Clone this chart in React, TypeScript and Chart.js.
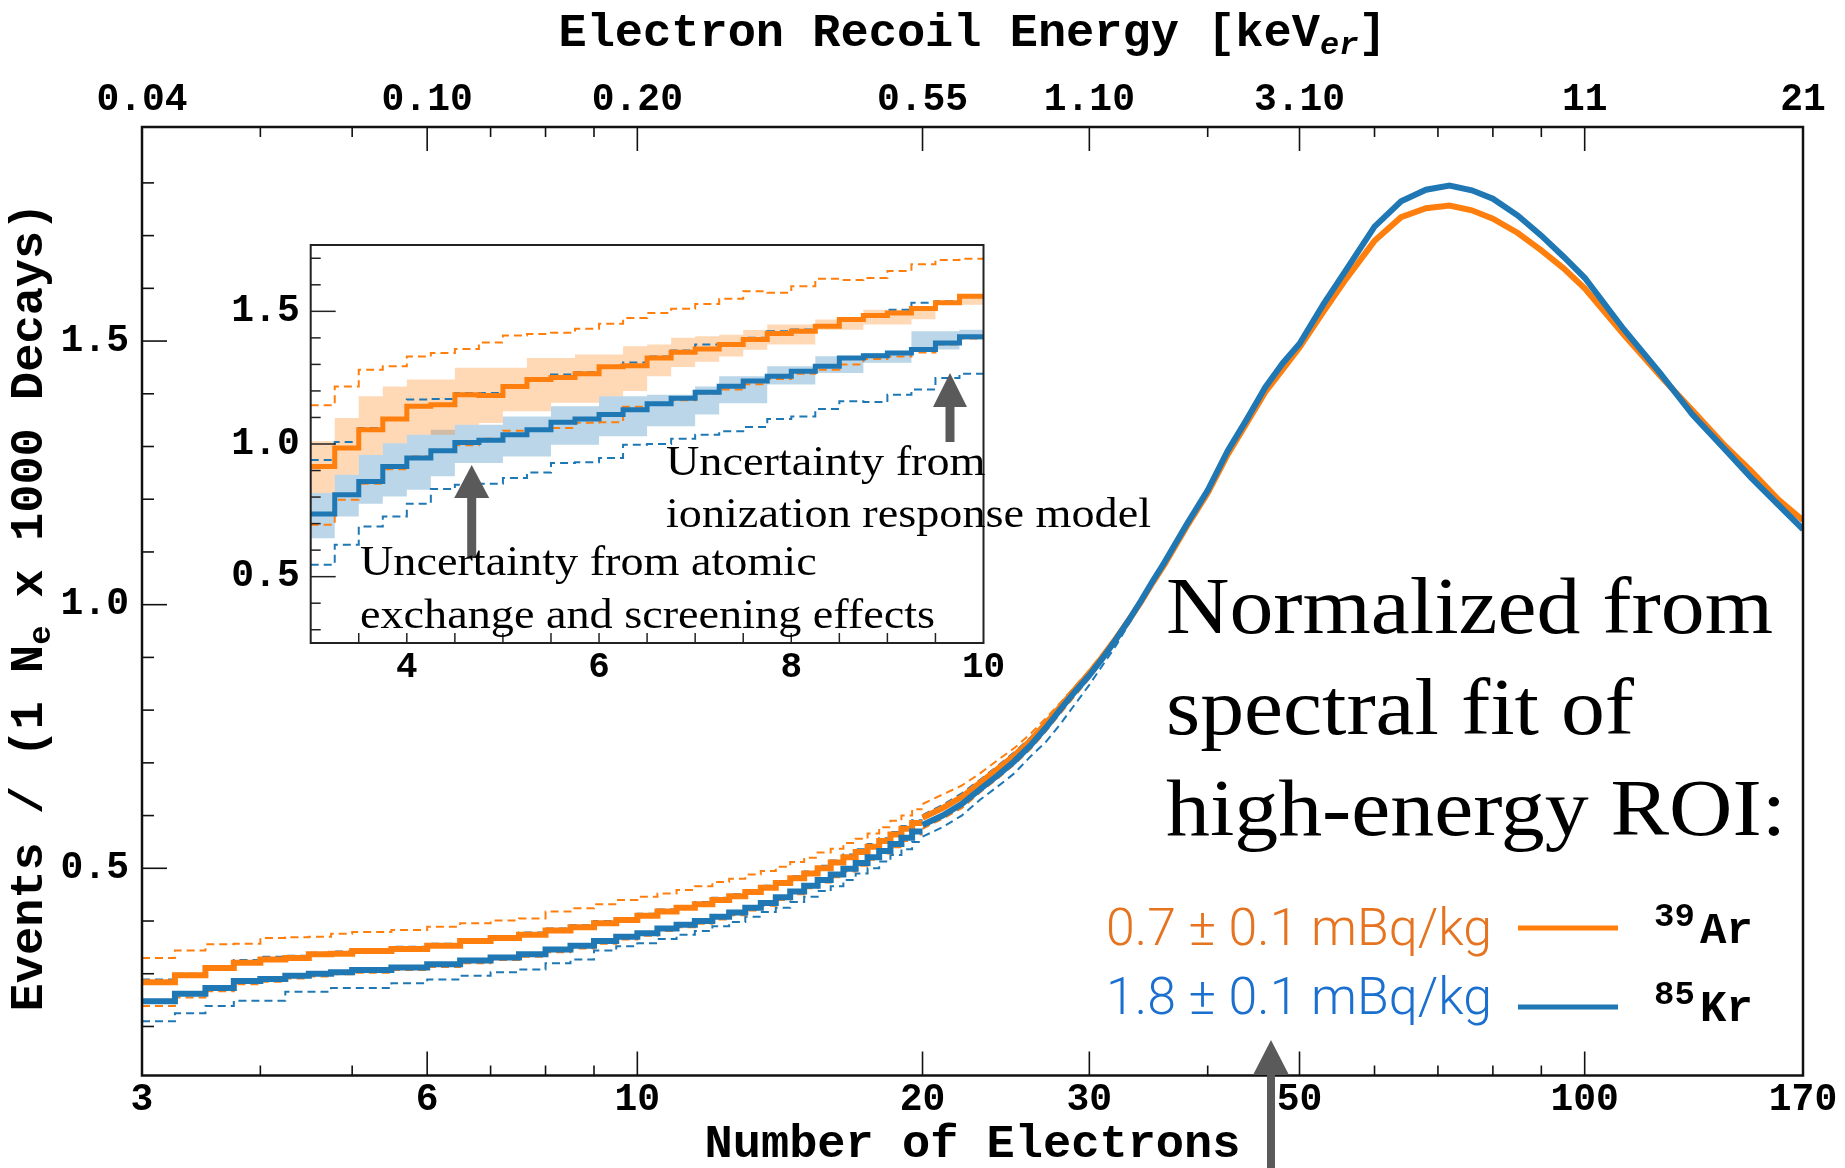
import React, { useEffect, useRef } from "react";
import { Chart, registerables } from "chart.js";

Chart.register(...registerables);

// ---------------- MAIN CHART DATA ----------------
// low-energy region: stepped histogram (bin edges / bin values)
const lowEdges = [3, 3.25, 3.5, 3.75, 4, 4.25, 4.5, 4.75, 5, 5.5, 6, 6.5, 7, 7.5, 8, 8.5, 9, 9.5, 10, 10.5, 11, 11.5, 12, 12.5, 13, 13.5, 14, 14.5, 15, 15.5, 16, 16.5, 17, 17.5, 18, 18.5, 19, 19.5, 20];
const ar39Low = [0.284, 0.297, 0.311, 0.321, 0.327, 0.33, 0.337, 0.338, 0.343, 0.347, 0.353, 0.362, 0.368, 0.374, 0.382, 0.388, 0.396, 0.402, 0.41, 0.418, 0.425, 0.432, 0.44, 0.447, 0.455, 0.463, 0.472, 0.481, 0.49, 0.5, 0.511, 0.521, 0.531, 0.541, 0.552, 0.564, 0.575, 0.586];
const kr85Low = [0.248, 0.262, 0.273, 0.286, 0.29, 0.296, 0.3, 0.303, 0.307, 0.312, 0.318, 0.325, 0.331, 0.337, 0.346, 0.353, 0.362, 0.37, 0.377, 0.386, 0.393, 0.4, 0.408, 0.416, 0.425, 0.434, 0.445, 0.456, 0.467, 0.478, 0.488, 0.499, 0.51, 0.521, 0.533, 0.546, 0.558, 0.57];
const ar39UpperLow = [0.33, 0.344, 0.356, 0.357, 0.368, 0.369, 0.37, 0.376, 0.379, 0.383, 0.389, 0.396, 0.401, 0.405, 0.418, 0.424, 0.432, 0.44, 0.446, 0.452, 0.459, 0.466, 0.474, 0.48, 0.488, 0.495, 0.503, 0.512, 0.52, 0.53, 0.537, 0.548, 0.556, 0.566, 0.578, 0.59, 0.6, 0.612];
const ar39LowerLow = [0.239, 0.255, 0.267, 0.28, 0.285, 0.291, 0.295, 0.299, 0.302, 0.307, 0.313, 0.32, 0.326, 0.332, 0.341, 0.348, 0.357, 0.365, 0.372, 0.381, 0.388, 0.395, 0.403, 0.411, 0.42, 0.429, 0.44, 0.451, 0.462, 0.473, 0.483, 0.494, 0.505, 0.516, 0.528, 0.54, 0.552, 0.564];
const kr85UpperLow = [0.289, 0.3, 0.314, 0.326, 0.332, 0.334, 0.34, 0.342, 0.346, 0.351, 0.357, 0.366, 0.371, 0.378, 0.386, 0.392, 0.4, 0.405, 0.414, 0.422, 0.428, 0.436, 0.444, 0.451, 0.459, 0.467, 0.476, 0.485, 0.494, 0.505, 0.515, 0.526, 0.536, 0.546, 0.557, 0.569, 0.58, 0.591];
const kr85LowerLow = [0.21, 0.225, 0.239, 0.249, 0.249, 0.266, 0.266, 0.273, 0.273, 0.282, 0.289, 0.296, 0.303, 0.308, 0.32, 0.327, 0.344, 0.352, 0.358, 0.366, 0.374, 0.381, 0.39, 0.398, 0.408, 0.417, 0.425, 0.436, 0.446, 0.457, 0.466, 0.478, 0.49, 0.5, 0.513, 0.525, 0.536, 0.55];

// high-energy region: dense (fine-binned) spectrum
const highX = [20, 21, 22, 23, 24, 25, 26, 27, 28, 29, 30, 31, 32, 33, 34, 35, 36, 38, 40, 42, 44, 46, 48, 50, 53, 56, 60, 64, 68, 72, 76, 80, 85, 90, 95, 100, 110, 120, 130, 140, 150, 160, 170];
const ar39High = [0.596, 0.614, 0.635, 0.662, 0.688, 0.714, 0.742, 0.775, 0.808, 0.84, 0.87, 0.902, 0.936, 0.97, 1.005, 1.042, 1.076, 1.148, 1.212, 1.285, 1.345, 1.403, 1.446, 1.488, 1.556, 1.618, 1.69, 1.735, 1.752, 1.757, 1.748, 1.732, 1.705, 1.672, 1.638, 1.6, 1.512, 1.435, 1.368, 1.305, 1.253, 1.2, 1.16];
const kr85High = [0.582, 0.6, 0.622, 0.65, 0.676, 0.703, 0.733, 0.767, 0.803, 0.836, 0.866, 0.899, 0.934, 0.97, 1.007, 1.045, 1.08, 1.152, 1.217, 1.292, 1.352, 1.412, 1.458, 1.495, 1.57, 1.635, 1.717, 1.765, 1.787, 1.795, 1.786, 1.77, 1.738, 1.7, 1.66, 1.62, 1.522, 1.44, 1.36, 1.298, 1.24, 1.19, 1.143];
const dashHighX = [20, 21, 22, 23, 24, 25, 26, 27, 28, 30, 32, 34];
const ar39UpperHigh = [0.622, 0.64, 0.657, 0.68, 0.705, 0.728, 0.755, 0.785, 0.815, 0.876, 0.94, 1.008];
const ar39LowerHigh = [0.575, 0.594, 0.614, 0.644, 0.67, 0.697, 0.726, 0.76, 0.795, 0.86, 0.928, 1.003];
const kr85UpperHigh = [0.601, 0.62, 0.642, 0.668, 0.694, 0.72, 0.748, 0.779, 0.811, 0.872, 0.938, 1.006];
const kr85LowerHigh = [0.56, 0.578, 0.6, 0.63, 0.655, 0.68, 0.712, 0.74, 0.775, 0.848, 0.922, 1.002];

// axes
const xMajorTicks = [3, 6, 10, 20, 30, 50, 100, 170];
const xMinorTicks = [4, 5, 7, 8, 9, 40, 60, 70, 80, 90];
const energyLabels = ["0.04", "0.10", "0.20", "0.55", "1.10", "3.10", "11", "21"];
const yMajorTicks = [0.5, 1.0, 1.5];
const yMinorTicks = [0.2, 0.3, 0.4, 0.6, 0.7, 0.8, 0.9, 1.1, 1.2, 1.3, 1.4, 1.6, 1.7, 1.8];

// ---------------- INSET DATA ----------------
const insetEdges = [3, 3.25, 3.5, 3.75, 4, 4.25, 4.5, 4.75, 5, 5.25, 5.5, 5.75, 6, 6.25, 6.5, 6.75, 7, 7.25, 7.5, 7.75, 8, 8.25, 8.5, 8.75, 9, 9.25, 9.5, 9.75, 10];
const insetAr39 = [0.915, 0.985, 1.054, 1.094, 1.142, 1.148, 1.186, 1.183, 1.217, 1.243, 1.251, 1.265, 1.291, 1.295, 1.324, 1.346, 1.358, 1.375, 1.394, 1.416, 1.425, 1.444, 1.469, 1.484, 1.494, 1.511, 1.532, 1.557];
const insetKr85 = [0.736, 0.809, 0.859, 0.915, 0.947, 0.975, 1.006, 1.014, 1.035, 1.054, 1.082, 1.094, 1.111, 1.129, 1.152, 1.172, 1.195, 1.218, 1.237, 1.255, 1.274, 1.293, 1.324, 1.333, 1.343, 1.356, 1.381, 1.404];
const insetAr39Up = [1.146, 1.217, 1.28, 1.293, 1.33, 1.343, 1.358, 1.383, 1.409, 1.415, 1.419, 1.434, 1.453, 1.475, 1.494, 1.51, 1.528, 1.547, 1.576, 1.57, 1.595, 1.623, 1.618, 1.626, 1.652, 1.677, 1.693, 1.698];
const insetAr39Down = [0.696, 0.79, 0.85, 0.905, 0.953, 0.975, 0.995, 1.02, 1.05, 1.054, 1.06, 1.08, 1.082, 1.14, 1.15, 1.165, 1.19, 1.205, 1.225, 1.245, 1.265, 1.28, 1.3, 1.32, 1.33, 1.345, 1.375, 1.398];
const insetKr85Up = [0.94, 1.008, 1.06, 1.098, 1.168, 1.17, 1.192, 1.192, 1.222, 1.245, 1.262, 1.27, 1.29, 1.307, 1.33, 1.352, 1.375, 1.38, 1.4, 1.425, 1.432, 1.444, 1.47, 1.485, 1.506, 1.532, 1.538, 1.557];
const insetKr85Down = [0.545, 0.62, 0.689, 0.727, 0.775, 0.83, 0.846, 0.85, 0.872, 0.893, 0.928, 0.931, 0.947, 0.997, 1.0, 1.02, 1.035, 1.048, 1.064, 1.094, 1.104, 1.132, 1.161, 1.158, 1.186, 1.205, 1.249, 1.265];
const insetAr39BandHi = [1.01, 1.098, 1.18, 1.217, 1.243, 1.243, 1.287, 1.287, 1.287, 1.324, 1.324, 1.337, 1.337, 1.368, 1.375, 1.4, 1.406, 1.412, 1.43, 1.45, 1.45, 1.469, 1.469, 1.506, 1.506, 1.506, 1.54, 1.563];
const insetAr39BandLo = [0.815, 0.884, 0.959, 1.003, 1.035, 1.035, 1.073, 1.079, 1.123, 1.123, 1.155, 1.155, 1.18, 1.2, 1.255, 1.29, 1.31, 1.33, 1.355, 1.375, 1.375, 1.431, 1.431, 1.45, 1.45, 1.47, 1.525, 1.525];
const insetKr85BandHi = [0.815, 0.884, 0.959, 1.003, 1.035, 1.054, 1.073, 1.073, 1.104, 1.104, 1.142, 1.142, 1.18, 1.18, 1.186, 1.186, 1.217, 1.255, 1.255, 1.293, 1.293, 1.331, 1.331, 1.343, 1.343, 1.425, 1.425, 1.431];
const insetKr85BandLo = [0.645, 0.727, 0.775, 0.802, 0.828, 0.878, 0.928, 0.928, 0.953, 0.953, 0.997, 0.997, 1.029, 1.029, 1.067, 1.067, 1.111, 1.154, 1.154, 1.224, 1.224, 1.268, 1.268, 1.306, 1.306, 1.356, 1.356, 1.394];

const insetXTicks = [4, 6, 8, 10];
const insetXMinor = [3.5, 4, 4.5, 5, 5.5, 6, 6.5, 7, 7.5, 8, 8.5, 9, 9.5];
const insetYMajor = [0.5, 1.0, 1.5];
const insetYMinor = [0.3, 0.4, 0.6, 0.7, 0.8, 0.9, 1.1, 1.2, 1.3, 1.4, 1.6, 1.7];

// ---------------- STYLE ----------------
const ORANGE = "#ff7f0e";
const BLUE = "#1f77b4";
const ORANGE_TXT = "#e5731f";
const BLUE_TXT = "#1b6fce";
const ARROW = "#5a5a5a";
const MONO = '"Liberation Mono", "DejaVu Sans Mono", monospace';
const SERIF = '"Liberation Serif", "DejaVu Serif", serif';
const SANS = 'Roboto, "Liberation Sans", sans-serif';

const W = 1845;
const H = 1168;
const PLOT = { left: 142, top: 127, right: 1803, bottom: 1075.5 };

const IN_X = 180;
const IN_Y = 200;
const IN_W = 1000;
const IN_H = 500;
const IPLOT = { left: 130.7, top: 45, right: 803.5, bottom: 443 };

function stepPts(edges: number[], vals: number[]) {
  const out = vals.map((v, i) => ({ x: edges[i], y: v }));
  out.push({ x: edges[vals.length], y: vals[vals.length - 1] });
  return out;
}
function linePts(xs: number[], vals: number[]) {
  return xs.map((x, i) => ({ x, y: vals[i] }));
}
function lineDs(data: any[], color: string, width: number, dash: number[], stepped: any, order: number, extra: any = {}) {
  return {
    data,
    borderColor: color,
    backgroundColor: color,
    borderWidth: width,
    borderDash: dash,
    stepped,
    order,
    pointRadius: 0,
    pointHoverRadius: 0,
    fill: false,
    tension: 0,
    borderJoinStyle: "miter",
    borderCapStyle: "butt",
    ...extra,
  };
}

function drawArrow(ctx: any, x: number, yTail: number, yTip: number, headLen: number, headW: number, shaftW: number) {
  ctx.save();
  ctx.fillStyle = ARROW;
  ctx.fillRect(x - shaftW / 2, yTip + headLen - 1, shaftW, yTail - (yTip + headLen) + 1);
  ctx.beginPath();
  ctx.moveTo(x, yTip);
  ctx.lineTo(x + headW / 2, yTip + headLen);
  ctx.lineTo(x - headW / 2, yTip + headLen);
  ctx.closePath();
  ctx.fill();
  ctx.restore();
}

function drawSegments(ctx: any, segs: any[], cx: number, baseline: number) {
  let total = 0;
  segs.forEach((s) => {
    ctx.font = s.font;
    s.w = ctx.measureText(s.text).width;
    total += s.w;
  });
  let x = cx - total / 2;
  ctx.textAlign = "left";
  ctx.textBaseline = "alphabetic";
  segs.forEach((s) => {
    ctx.font = s.font;
    ctx.fillText(s.text, x, baseline + (s.dy || 0));
    x += s.w;
  });
}

function scaledText(ctx: any, text: string, x: number, y: number, sx: number) {
  ctx.save();
  ctx.translate(x, y);
  ctx.scale(sx, 1);
  ctx.fillText(text, 0, 0);
  ctx.restore();
}

const mainDecor = {
  id: "mainDecor",
  afterDraw(chart: any) {
    const { ctx, chartArea: a, scales } = chart;
    const xs = scales.x;
    const ys = scales.y;
    ctx.save();
    // frame
    ctx.strokeStyle = "#111";
    ctx.lineWidth = 2.5;
    ctx.strokeRect(a.left, a.top, a.right - a.left, a.bottom - a.top);
    // inward ticks
    ctx.lineWidth = 1.6;
    const seg = (x1: number, y1: number, x2: number, y2: number) => {
      ctx.beginPath();
      ctx.moveTo(x1, y1);
      ctx.lineTo(x2, y2);
      ctx.stroke();
    };
    xMajorTicks.forEach((v) => {
      if (v <= xs.min || v >= xs.max) return;
      const px = xs.getPixelForValue(v);
      seg(px, a.bottom, px, a.bottom - 24);
      seg(px, a.top, px, a.top + 24);
    });
    xMinorTicks.forEach((v) => {
      const px = xs.getPixelForValue(v);
      seg(px, a.bottom, px, a.bottom - 10);
      seg(px, a.top, px, a.top + 10);
    });
    yMajorTicks.forEach((v) => {
      const py = ys.getPixelForValue(v);
      seg(a.left, py, a.left + 25, py);
    });
    yMinorTicks.forEach((v) => {
      const py = ys.getPixelForValue(v);
      seg(a.left, py, a.left + 12, py);
    });

    // axis titles
    ctx.fillStyle = "#000";
    const tFont = `bold 47px ${MONO}`;
    const sFont = `bold 32px ${MONO}`;
    const siFont = `italic bold 32px ${MONO}`;
    drawSegments(ctx, [{ text: "Number of Electrons", font: tFont }], (a.left + a.right) / 2, 1157);
    drawSegments(
      ctx,
      [
        { text: "Electron Recoil Energy [keV", font: tFont },
        { text: "er", font: siFont, dy: 8 },
        { text: "]", font: tFont },
      ],
      (a.left + a.right) / 2,
      46
    );
    ctx.save();
    ctx.translate(42, 607);
    ctx.rotate(-Math.PI / 2);
    drawSegments(
      ctx,
      [
        { text: "Events / (1 N", font: tFont },
        { text: "e", font: sFont, dy: 8 },
        { text: " x 1000 Decays)", font: tFont },
      ],
      0,
      0
    );
    ctx.restore();

    // big annotation
    ctx.font = `80px ${SERIF}`;
    ctx.fillStyle = "#000";
    ctx.textAlign = "left";
    ctx.textBaseline = "alphabetic";
    const sx = 607 / ctx.measureText("Normalized from").width;
    scaledText(ctx, "Normalized from", 1166, 633, sx);
    scaledText(ctx, "spectral fit of", 1166, 734, sx);
    scaledText(ctx, "high-energy ROI:", 1166, 835, sx);

    // legend
    ctx.font = `300 52px ${SANS}`;
    const lsx = 386 / ctx.measureText("0.7 ± 0.1 mBq/kg").width;
    ctx.fillStyle = ORANGE_TXT;
    scaledText(ctx, "0.7 ± 0.1 mBq/kg", 1106, 945, lsx);
    ctx.fillStyle = BLUE_TXT;
    scaledText(ctx, "1.8 ± 0.1 mBq/kg", 1106, 1014, lsx);
    ctx.lineWidth = 5;
    ctx.strokeStyle = ORANGE;
    seg(1518, 928, 1618, 928);
    ctx.strokeStyle = BLUE;
    seg(1518, 1007, 1618, 1007);
    ctx.fillStyle = "#000";
    ctx.font = `bold 34px ${MONO}`;
    ctx.fillText("39", 1654, 926);
    ctx.fillText("85", 1654, 1004);
    ctx.font = `bold 44px ${MONO}`;
    ctx.fillText("Ar", 1700, 943);
    ctx.fillText("Kr", 1700, 1021);

    // arrow
    drawArrow(ctx, 1271, H, 1040, 35, 36, 8);
    ctx.restore();
  },
};

const insetDecor = {
  id: "insetDecor",
  beforeDatasetsDraw(chart: any) {
    const { ctx, chartArea: a } = chart;
    ctx.save();
    ctx.fillStyle = "#fff";
    ctx.fillRect(a.left, a.top, a.right - a.left, a.bottom - a.top);
    ctx.restore();
  },
  afterDraw(chart: any) {
    const { ctx, chartArea: a, scales } = chart;
    const xs = scales.x;
    const ys = scales.y;
    ctx.save();
    ctx.strokeStyle = "#222";
    ctx.lineWidth = 2;
    ctx.strokeRect(a.left, a.top, a.right - a.left, a.bottom - a.top);
    ctx.lineWidth = 1.5;
    const seg = (x1: number, y1: number, x2: number, y2: number) => {
      ctx.beginPath();
      ctx.moveTo(x1, y1);
      ctx.lineTo(x2, y2);
      ctx.stroke();
    };
    insetXMinor.forEach((v) => {
      const px = xs.getPixelForValue(v);
      seg(px, a.bottom, px, a.bottom - 10);
    });
    insetYMajor.forEach((v) => {
      const py = ys.getPixelForValue(v);
      seg(a.left, py, a.left + 25, py);
    });
    insetYMinor.forEach((v) => {
      const py = ys.getPixelForValue(v);
      seg(a.left, py, a.left + 10, py);
    });

    // arrows
    drawArrow(ctx, 291.7, 358, 265, 33, 35, 9);
    drawArrow(ctx, 770, 242, 173, 34, 34, 9);

    // annotation text
    ctx.fillStyle = "#000";
    ctx.font = `42px ${SERIF}`;
    ctx.textAlign = "left";
    ctx.textBaseline = "alphabetic";
    const sx = 485 / ctx.measureText("ionization response model").width;
    scaledText(ctx, "Uncertainty from", 486, 275, sx);
    scaledText(ctx, "ionization response model", 486, 327, sx);
    scaledText(ctx, "Uncertainty from atomic", 180, 375, sx);
    scaledText(ctx, "exchange and screening effects", 180, 428, sx);
    ctx.restore();
  },
};

export default function App() {
  const mainRef = useRef<HTMLCanvasElement | null>(null);
  const insetRef = useRef<HTMLCanvasElement | null>(null);

  useEffect(() => {
    const tickFont = { family: MONO, size: 38, weight: "bold" as const };
    const noGrid = { display: false, drawTicks: false };
    const main = new Chart(mainRef.current as HTMLCanvasElement, {
      type: "line",
      data: {
        datasets: [
          lineDs(stepPts(lowEdges, kr85Low), BLUE, 6, [], "before", 0),
          lineDs(linePts(highX, kr85High), BLUE, 6, [], false, 0),
          lineDs(stepPts(lowEdges, ar39Low), ORANGE, 6, [], "before", 1),
          lineDs(linePts(highX, ar39High), ORANGE, 6, [], false, 1),
          lineDs(stepPts(lowEdges, ar39UpperLow), ORANGE, 2, [8, 5], "before", 2),
          lineDs(linePts(dashHighX, ar39UpperHigh), ORANGE, 2, [8, 5], false, 2),
          lineDs(stepPts(lowEdges, ar39LowerLow), ORANGE, 2, [8, 5], "before", 3),
          lineDs(linePts(dashHighX, ar39LowerHigh), ORANGE, 2, [8, 5], false, 3),
          lineDs(stepPts(lowEdges, kr85UpperLow), BLUE, 2, [8, 5], "before", 4),
          lineDs(linePts(dashHighX, kr85UpperHigh), BLUE, 2, [8, 5], false, 4),
          lineDs(stepPts(lowEdges, kr85LowerLow), BLUE, 2, [8, 5], "before", 5),
          lineDs(linePts(dashHighX, kr85LowerHigh), BLUE, 2, [8, 5], false, 5),
        ] as any,
      },
      options: {
        animation: false,
        responsive: false,
        maintainAspectRatio: false,
        devicePixelRatio: 1,
        events: [],
        layout: { padding: { left: 0, top: 0, right: W - PLOT.right, bottom: 0 } },
        plugins: { legend: { display: false }, tooltip: { enabled: false }, title: { display: false } },
        scales: {
          x: {
            type: "logarithmic",
            position: "bottom",
            min: 3,
            max: 170,
            grid: noGrid,
            border: { display: false },
            afterBuildTicks: (ax: any) => {
              ax.ticks = xMajorTicks.map((v) => ({ value: v }));
            },
            afterFit: (s: any) => {
              s.height = H - PLOT.bottom;
            },
            ticks: {
              autoSkip: false,
              maxRotation: 0,
              minRotation: 0,
              padding: 2,
              color: "#000",
              font: tickFont,
              callback: (v: any) => String(v),
            },
          },
          x2: {
            type: "logarithmic",
            position: "top",
            min: 3,
            max: 170,
            grid: noGrid,
            border: { display: false },
            afterBuildTicks: (ax: any) => {
              ax.ticks = xMajorTicks.map((v) => ({ value: v }));
            },
            afterFit: (s: any) => {
              s.height = PLOT.top;
            },
            ticks: {
              autoSkip: false,
              maxRotation: 0,
              minRotation: 0,
              padding: 4,
              color: "#000",
              font: tickFont,
              callback: (v: any) => energyLabels[xMajorTicks.indexOf(Number(v))],
            },
          },
          y: {
            type: "linear",
            min: 0.107,
            max: 1.906,
            grid: noGrid,
            border: { display: false },
            afterBuildTicks: (ax: any) => {
              ax.ticks = yMajorTicks.map((v) => ({ value: v }));
            },
            afterFit: (s: any) => {
              s.width = PLOT.left;
            },
            ticks: {
              padding: 13,
              color: "#000",
              font: tickFont,
              callback: (v: any) => Number(v).toFixed(1),
            },
          },
        },
      } as any,
      plugins: [mainDecor],
    });

    const inset = new Chart(insetRef.current as HTMLCanvasElement, {
      type: "line",
      data: {
        datasets: [
          lineDs(stepPts(insetEdges, insetKr85), BLUE, 5, [], "before", 0),
          lineDs(stepPts(insetEdges, insetAr39), ORANGE, 5, [], "before", 1),
          lineDs(stepPts(insetEdges, insetAr39Up), ORANGE, 2, [8, 5], "before", 2),
          lineDs(stepPts(insetEdges, insetAr39Down), ORANGE, 2, [8, 5], "before", 3),
          lineDs(stepPts(insetEdges, insetKr85Up), BLUE, 2, [8, 5], "before", 4),
          lineDs(stepPts(insetEdges, insetKr85Down), BLUE, 2, [8, 5], "before", 5),
          lineDs(stepPts(insetEdges, insetAr39BandLo), "rgba(0,0,0,0)", 0, [], "before", 8),
          lineDs(stepPts(insetEdges, insetAr39BandHi), "rgba(0,0,0,0)", 0, [], "before", 8, {
            fill: "-1",
            backgroundColor: "rgba(255,127,14,0.3)",
          }),
          lineDs(stepPts(insetEdges, insetKr85BandLo), "rgba(0,0,0,0)", 0, [], "before", 9),
          lineDs(stepPts(insetEdges, insetKr85BandHi), "rgba(0,0,0,0)", 0, [], "before", 9, {
            fill: "-1",
            backgroundColor: "rgba(31,119,180,0.3)",
          }),
        ] as any,
      },
      options: {
        animation: false,
        responsive: false,
        maintainAspectRatio: false,
        devicePixelRatio: 1,
        events: [],
        layout: { padding: { left: 0, top: IPLOT.top, right: IN_W - IPLOT.right, bottom: 0 } },
        plugins: { legend: { display: false }, tooltip: { enabled: false }, title: { display: false } },
        scales: {
          x: {
            type: "linear",
            min: 3,
            max: 10,
            grid: noGrid,
            border: { display: false },
            afterBuildTicks: (ax: any) => {
              ax.ticks = insetXTicks.map((v) => ({ value: v }));
            },
            afterFit: (s: any) => {
              s.height = IN_H - IPLOT.bottom;
            },
            ticks: {
              autoSkip: false,
              maxRotation: 0,
              minRotation: 0,
              padding: 3,
              color: "#000",
              font: { family: MONO, size: 36, weight: "bold" },
              callback: (v: any) => String(v),
            },
          },
          y: {
            type: "linear",
            min: 0.25,
            max: 1.75,
            grid: noGrid,
            border: { display: false },
            afterBuildTicks: (ax: any) => {
              ax.ticks = insetYMajor.map((v) => ({ value: v }));
            },
            afterFit: (s: any) => {
              s.width = IPLOT.left;
            },
            ticks: {
              padding: 11,
              color: "#000",
              font: tickFont,
              callback: (v: any) => Number(v).toFixed(1),
            },
          },
        },
      } as any,
      plugins: [insetDecor],
    });

    return () => {
      main.destroy();
      inset.destroy();
    };
  }, []);

  return (
    <div style={{ position: "absolute", left: 0, top: 0, width: W, height: H, background: "#fff", overflow: "hidden" }}>
      <canvas ref={mainRef} width={W} height={H} style={{ position: "absolute", left: 0, top: 0, width: W, height: H }} />
      <canvas
        ref={insetRef}
        width={IN_W}
        height={IN_H}
        style={{ position: "absolute", left: IN_X, top: IN_Y, width: IN_W, height: IN_H }}
      />
    </div>
  );
}
